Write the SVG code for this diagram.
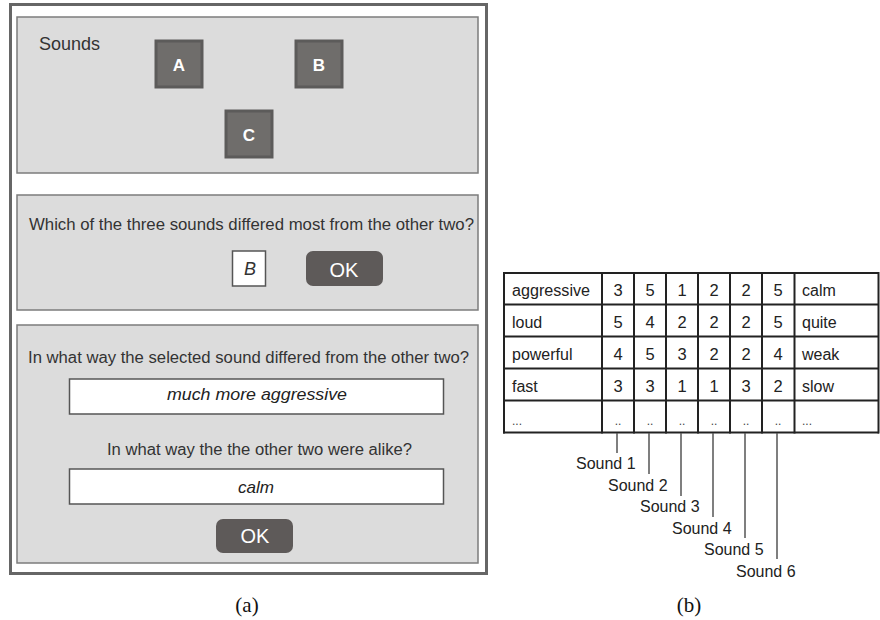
<svg xmlns="http://www.w3.org/2000/svg" width="880" height="620" viewBox="0 0 880 620">
<style>
text{font-family:"Liberation Sans",Arial,sans-serif;fill:#333}
.panel{fill:#dcdcdc;stroke:#7c7c7c;stroke-width:1.5}
.snd rect{fill:#6f6d6b;stroke:#5c5b5a;stroke-width:3}
.snd text{fill:#fff;font-weight:bold;font-size:17px;text-anchor:middle}
.q{font-size:16px;text-anchor:middle}
.inp{fill:#fff;stroke:#555;stroke-width:1.5}
.it{font-style:italic;font-size:17px;text-anchor:middle;fill:#222}
.ok rect{fill:#5e5a59}
.ok text{fill:#fff;font-size:20px;text-anchor:middle}
.grid line{stroke:#222;stroke-width:2}
.tc{font-size:16px;fill:#222}
.num{font-size:16.5px;fill:#222;text-anchor:middle}
.dot{font-size:12px;fill:#444}
.lead line{stroke:#555;stroke-width:1.5}
.lbl{font-size:16px;fill:#222}
.cap{font-family:"Liberation Serif","Times New Roman",serif;font-size:21px;fill:#111;text-anchor:middle}
</style>

<g id="panel-a">
<rect x="10.5" y="4.5" width="476" height="569" fill="#fff" stroke="#666" stroke-width="3"/>

<g id="sounds-panel">
<rect class="panel" x="17" y="17" width="461" height="156"/>
<text x="39" y="50" font-size="18">Sounds</text>
<g id="sound-A" class="snd"><rect x="156" y="41" width="46" height="46"/><text x="179" y="71">A</text></g>
<g id="sound-B" class="snd"><rect x="296" y="41" width="46" height="46"/><text x="319" y="71">B</text></g>
<g id="sound-C" class="snd"><rect x="226" y="111" width="46" height="46"/><text x="249" y="141">C</text></g>
</g>

<g id="question-panel">
<rect class="panel" x="17" y="195" width="461" height="115"/>
<text class="q" x="251.5" y="230" textLength="445" lengthAdjust="spacingAndGlyphs">Which of the three sounds differed most from the other two?</text>
<g id="answer-box"><rect class="inp" x="232.5" y="251" width="33" height="35"/><text x="250" y="275" font-size="18" font-style="italic" text-anchor="middle" fill="#222">B</text></g>
<g id="ok-1" class="ok"><rect x="306" y="251" width="77" height="35" rx="7"/><text x="344" y="276.5">OK</text></g>
</g>

<g id="describe-panel">
<rect class="panel" x="17" y="325" width="461" height="238"/>
<text class="q" x="248.5" y="363" textLength="441" lengthAdjust="spacingAndGlyphs">In what way the selected sound differed from the other two?</text>
<g id="input-1"><rect class="inp" x="69.5" y="379" width="374" height="35"/><text class="it" x="257" y="400" textLength="180" lengthAdjust="spacingAndGlyphs">much more aggressive</text></g>
<text class="q" x="259.5" y="455" textLength="305" lengthAdjust="spacingAndGlyphs">In what way the the other two were alike?</text>
<g id="input-2"><rect class="inp" x="69.5" y="469" width="374" height="35"/><text class="it" x="256" y="493" textLength="36" lengthAdjust="spacingAndGlyphs">calm</text></g>
<g id="ok-2" class="ok"><rect x="216" y="519" width="77" height="34" rx="7"/><text x="255" y="542.5">OK</text></g>
</g>
</g>
<text class="cap" x="247" y="612">(a)</text>

<g id="table-b">
<g class="grid">
<line x1="503" y1="273" x2="879" y2="273"/>
<line x1="503" y1="304.5" x2="879" y2="304.5"/>
<line x1="503" y1="336.5" x2="879" y2="336.5"/>
<line x1="503" y1="368.5" x2="879" y2="368.5"/>
<line x1="503" y1="400.5" x2="879" y2="400.5"/>
<line x1="503" y1="432.5" x2="879" y2="432.5"/>
<line x1="504" y1="272" x2="504" y2="433.5"/>
<line x1="602" y1="272" x2="602" y2="433.5"/>
<line x1="634" y1="272" x2="634" y2="433.5"/>
<line x1="666" y1="272" x2="666" y2="433.5"/>
<line x1="698" y1="272" x2="698" y2="433.5"/>
<line x1="730" y1="272" x2="730" y2="433.5"/>
<line x1="762" y1="272" x2="762" y2="433.5"/>
<line x1="794.5" y1="272" x2="794.5" y2="433.5"/>
<line x1="878.5" y1="272" x2="878.5" y2="433.5"/>
</g>
<g>
<text class="tc" x="512" y="296" textLength="78" lengthAdjust="spacingAndGlyphs">aggressive</text>
<text class="tc" x="512" y="328">loud</text>
<text class="tc" x="512" y="360">powerful</text>
<text class="tc" x="512" y="392">fast</text>
<text class="dot" x="512" y="425">...</text>
<text class="tc" x="802" y="296">calm</text>
<text class="tc" x="802" y="328">quite</text>
<text class="tc" x="802" y="360">weak</text>
<text class="tc" x="802" y="392">slow</text>
<text class="dot" x="802" y="425">...</text>
</g>
<g>
<text class="num" x="618" y="296">3</text><text class="num" x="650" y="296">5</text><text class="num" x="682" y="296">1</text><text class="num" x="714" y="296">2</text><text class="num" x="746" y="296">2</text><text class="num" x="778" y="296">5</text>
<text class="num" x="618" y="328">5</text><text class="num" x="650" y="328">4</text><text class="num" x="682" y="328">2</text><text class="num" x="714" y="328">2</text><text class="num" x="746" y="328">2</text><text class="num" x="778" y="328">5</text>
<text class="num" x="618" y="360">4</text><text class="num" x="650" y="360">5</text><text class="num" x="682" y="360">3</text><text class="num" x="714" y="360">2</text><text class="num" x="746" y="360">2</text><text class="num" x="778" y="360">4</text>
<text class="num" x="618" y="392">3</text><text class="num" x="650" y="392">3</text><text class="num" x="682" y="392">1</text><text class="num" x="714" y="392">1</text><text class="num" x="746" y="392">3</text><text class="num" x="778" y="392">2</text>
<text class="dot" x="618" y="425" text-anchor="middle">..</text><text class="dot" x="650" y="425" text-anchor="middle">..</text><text class="dot" x="682" y="425" text-anchor="middle">..</text><text class="dot" x="714" y="425" text-anchor="middle">..</text><text class="dot" x="746" y="425" text-anchor="middle">..</text><text class="dot" x="778" y="425" text-anchor="middle">..</text>
</g>
</g>

<g id="connectors" class="lead">
<line x1="617" y1="433" x2="617" y2="453"/>
<line x1="649" y1="433" x2="649" y2="474"/>
<line x1="681" y1="433" x2="681" y2="496"/>
<line x1="713" y1="433" x2="713" y2="517"/>
<line x1="745" y1="433" x2="745" y2="538"/>
<line x1="777" y1="433" x2="777" y2="559"/>
</g>
<g id="sound-labels">
<text class="lbl" x="576" y="469">Sound 1</text>
<text class="lbl" x="608" y="490.5">Sound 2</text>
<text class="lbl" x="640" y="512">Sound 3</text>
<text class="lbl" x="672" y="533.5">Sound 4</text>
<text class="lbl" x="704" y="555">Sound 5</text>
<text class="lbl" x="736" y="576.5">Sound 6</text>
</g>
<text class="cap" x="689" y="612">(b)</text>
</svg>
